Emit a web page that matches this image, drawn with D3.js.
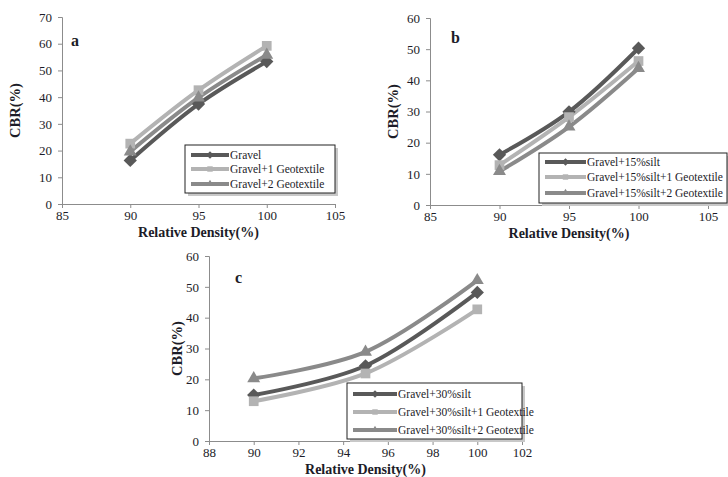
<!DOCTYPE html>
<html>
<head>
<meta charset="utf-8">
<script src="https://cdn.jsdelivr.net/npm/d3@7/dist/d3.min.js"></script>
<style>
  body { margin: 0; background: #fff; }
  svg text { font-family: "Liberation Serif", "DejaVu Serif", serif; fill: #1c1c28; }
</style>
</head>
<body>
<svg id="chart" width="728" height="477"></svg>
<script>
// data
const density = [90, 95, 100];

const namesA = ["Gravel", "Gravel+1 Geotextile", "Gravel+2 Geotextile"];
const gravel = [16.3, 37.4, 53.3];
const gravel1 = [22.6, 42.6, 59.2];
const gravel2 = [19.6, 39.8, 55.8];

const namesB = ["Gravel+15%silt", "Gravel+15%silt+1 Geotextile", "Gravel+15%silt+2 Geotextile"];
const silt15 = [16.1, 29.9, 50.3];
const silt15g1 = [12.8, 28.2, 46.2];
const silt15g2 = [10.8, 25.1, 43.9];

const namesC = ["Gravel+30%silt", "Gravel+30%silt+1 Geotextile", "Gravel+30%silt+2 Geotextile"];
const silt30 = [14.9, 24.4, 48.2];
const silt30g1 = [12.9, 21.9, 42.7];
const silt30g2 = [20.3, 28.9, 52.1];

const xTicksAB = [85, 90, 95, 100, 105];
const xTicksC = [88, 90, 92, 94, 96, 98, 100, 102];

// series styles: dark diamond, light square, mid triangle
const colors = ["#595959", "#b3b3b3", "#8a8a8a"];
const symbols = [d3.symbolDiamond2, d3.symbolSquare2, d3.symbolTriangle2];
const symSize = [70, 75, 75];

const svg = d3.select("#chart");

const panels = [
  { label: "a", names: namesA, series: [gravel, gravel1, gravel2],
    xDom: [85, 105], xRange: [62, 335], yDom: [0, 70], yRange: [204, 17],
    xTicks: xTicksAB, yTicks: d3.range(0, 71, 10), labelPos: [71, 46], yTitleX: 15,
    legend: { x: 185, y: 145, w: 150, h: 48, rows: [155, 169, 184], sample: 38 } },
  { label: "b", names: namesB, series: [silt15, silt15g1, silt15g2],
    xDom: [85, 105], xRange: [430, 708], yDom: [0, 60], yRange: [205, 18],
    xTicks: xTicksAB, yTicks: d3.range(0, 61, 10), labelPos: [451, 43], yTitleX: 393,
    legend: { x: 539, y: 153, w: 188, h: 50, rows: [162, 177, 193], sample: 41 } },
  { label: "c", names: namesC, series: [silt30, silt30g1, silt30g2],
    xDom: [88, 102], xRange: [209, 522], yDom: [0, 60], yRange: [441, 256],
    xTicks: xTicksC, yTicks: d3.range(0, 61, 10), labelPos: [235, 283], yTitleX: 177,
    legend: { x: 347, y: 383, w: 175, h: 56, rows: [394, 412, 430], sample: 44 } }
];

panels.forEach((p) => {
  const x = d3.scaleLinear().domain(p.xDom).range(p.xRange);
  const y = d3.scaleLinear().domain(p.yDom).range(p.yRange);
  const g = svg.append("g");

  // axes
  const xAxis = d3.axisBottom(x).tickValues(p.xTicks).tickSize(4).tickPadding(3);
  const yAxis = d3.axisLeft(y).tickValues(p.yTicks).tickSize(4).tickPadding(6);

  const xG = g.append("g").attr("transform", `translate(0,${p.yRange[0]})`).call(xAxis);
  const yG = g.append("g").attr("transform", `translate(${p.xRange[0]},0)`).call(yAxis);
  [xG, yG].forEach((a) => {
    a.selectAll(".domain").attr("stroke", "#8c8c8c");
    a.selectAll(".tick line").attr("stroke", "#8c8c8c");
    a.selectAll(".tick text").style("font-size", "13px").attr("fill", "#1c1c28");
  });

  // axis titles
  const midX = (p.xRange[0] + p.xRange[1]) / 2;
  const midY = (p.yRange[0] + p.yRange[1]) / 2;
  g.append("text")
    .attr("x", midX)
    .attr("y", p.yRange[0] + 33)
    .attr("text-anchor", "middle")
    .style("font-size", "14px")
    .style("font-weight", "bold")
    .text("Relative Density(%)");
  g.append("text")
    .attr("transform", `translate(${p.yTitleX + 5},${midY}) rotate(-90)`)
    .attr("text-anchor", "middle")
    .style("font-size", "14.5px")
    .style("font-weight", "bold")
    .text("CBR(%)");

  g.append("text")
    .attr("x", p.labelPos[0])
    .attr("y", p.labelPos[1])
    .style("font-size", "16px")
    .style("font-weight", "bold")
    .text(p.label);

  // lines
  const line = d3.line()
    .x((d, i) => x(density[i]))
    .y((d) => y(d))
    .curve(d3.curveCatmullRom.alpha(0.5));

  p.series.forEach((s, k) => {
    g.append("path")
      .attr("d", line(s))
      .attr("fill", "none")
      .attr("stroke", colors[k])
      .attr("stroke-width", 4)
      .attr("stroke-linejoin", "round");
  });
  p.series.forEach((s, k) => {
    g.selectAll(null)
      .data(s)
      .join("path")
      .attr("transform", (d, i) => `translate(${x(density[i])},${y(d)})`)
      .attr("d", d3.symbol(symbols[k], symSize[k] * 1.6))
      .attr("fill", colors[k]);
  });

  // legend
  const L = p.legend;
  g.append("rect")
    .attr("x", L.x + 3).attr("y", L.y + 3)
    .attr("width", L.w).attr("height", L.h)
    .attr("fill", "#c8c8c8");
  g.append("rect")
    .attr("x", L.x).attr("y", L.y)
    .attr("width", L.w).attr("height", L.h)
    .attr("fill", "#fff")
    .attr("stroke", "#222")
    .attr("stroke-width", 1);
  p.names.forEach((name, k) => {
    const ry = L.rows[k];
    const x0 = L.x + 6, x1 = L.x + 6 + L.sample;
    g.append("line")
      .attr("x1", x0).attr("x2", x1)
      .attr("y1", ry).attr("y2", ry)
      .attr("stroke", colors[k])
      .attr("stroke-width", 4);
    g.append("path")
      .attr("transform", `translate(${(x0 + x1) / 2},${ry})`)
      .attr("d", d3.symbol(symbols[k], symSize[k] * 0.5))
      .attr("fill", colors[k]);
    g.append("text")
      .attr("x", x1 + 1)
      .attr("y", ry + 4)
      .style("font-size", "11.5px")
      .text(name);
  });
});
</script>
</body>
</html>
